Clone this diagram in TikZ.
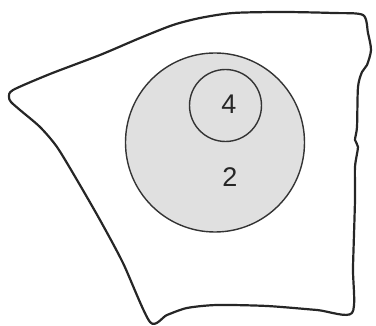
\documentclass[tikz,border=0pt]{standalone}
\usepackage{fontspec}
\setmainfont{Liberation Sans}
\begin{document}
\begin{tikzpicture}[x=1pt,y=-1pt,
  outline/.style={draw=black!85,line width=2.2pt,line join=round},
  ring/.style={draw=black!80,line width=1.4pt},
  lbl/.style={font=\fontsize{27}{27}\selectfont,text=black!85,inner sep=0pt}]
\useasboundingbox (0,0) rectangle (376,326);
% outline of the region
\draw[outline] plot[smooth cycle,tension=0.45] coordinates {
 (9,97) (13,90) (50,74) (100,55) (140,38) (173,25) (200,18) (233,13) (283,12) (333,13) (363,15)
 (368,33) (371,50) (367,65) (362,72) (358,87) (357,127) (355,140) (358,147) (355,167) (355,200) (353,267) (352,313)
 (317,310) (267,306) (217,305) (187,308) (167,315) (150,322)
 (123,263) (100,220) (77,180) (57,147) (40,127) (20,110) (11,102)};
\node[ring,circle,fill=black!12,minimum size=179pt,inner sep=0pt] (big) at (215,142.5) {};
\node[ring,circle,minimum size=72pt,inner sep=0pt] (small) at (225.5,105.5) {};
\node[lbl] (four) at (229,104.5) {4};
\node[lbl] (two) at (230,177) {2};
\end{tikzpicture}
\end{document}
